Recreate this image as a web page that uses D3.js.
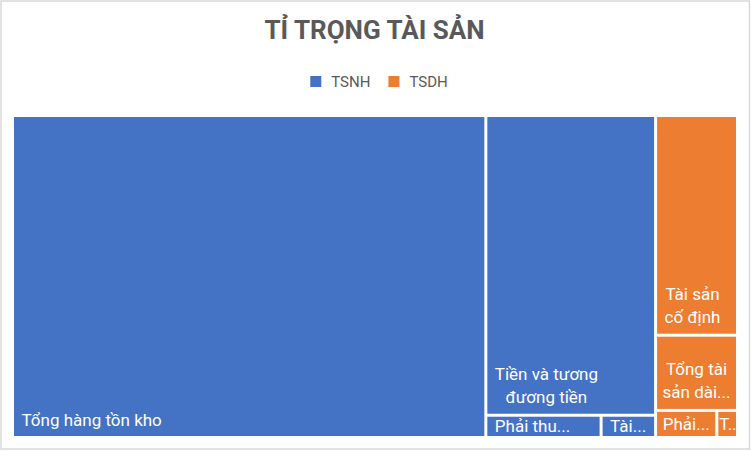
<!DOCTYPE html>
<html>
<head>
<meta charset="utf-8">
<script src="https://cdn.jsdelivr.net/npm/d3@7"></script>
<style>
  html, body { margin: 0; padding: 0; background: #ffffff; }
  svg { display: block; }
</style>
</head>
<body>
<svg id="chart" width="751" height="451"></svg>
<script>
// ---- data ----
const chartTitle = "TỈ TRỌNG TÀI SẢN";
const seriesNames = ["TSNH", "TSDH"];
const seriesColors = ["#4472C4", "#ED7D31"];
const categories = ["Tổng hàng tồn kho", "Tiền và tương đương tiền", "Phải thu...", "Tài...",
                    "Tài sản cố định", "Tổng tài sản dài...", "Phải...", "T..."];
const categoryGroup = ["TSNH", "TSNH", "TSNH", "TSNH", "TSDH", "TSDH", "TSDH", "TSDH"];
const values = [65.3, 21.8, 1.10, 0.52, 7.71, 2.64, 0.71, 0.24];
const labelLines = [["Tổng hàng tồn kho"], ["Tiền và tương", "đương tiền"], ["Phải thu..."], ["Tài..."],
                    ["Tài sản", "cố định"], ["Tổng tài", "sản dài..."], ["Phải..."], ["T..."]];

// ---- layout ----
const W = 751, H = 451;
const plot = { x0: 14, y0: 117, x1: 736, y1: 436 };
const FONT = "Roboto, 'Noto Sans', sans-serif";
const textGray = "#595959";

const svg = d3.select("#chart");

// chart frame
svg.append("rect")
  .attr("x", 1).attr("y", 1).attr("width", 748.5).attr("height", 448)
  .attr("fill", "#ffffff").attr("stroke", "#D9D9D9").attr("stroke-width", 1.5);

// title
svg.append("text")
  .attr("x", 374.5).attr("y", 39)
  .attr("text-anchor", "middle")
  .attr("font-family", FONT).attr("font-weight", "bold").attr("font-size", 26)
  .attr("fill", textGray)
  .text(chartTitle);

// legend
const color = d3.scaleOrdinal().domain(seriesNames).range(seriesColors);
const legend = svg.append("g");
let lx = 0;
seriesNames.forEach((s, i) => {
  const g = legend.append("g").attr("transform", `translate(${lx},0)`);
  g.append("rect").attr("x", 0).attr("y", -11).attr("width", 11).attr("height", 11).attr("fill", color(s));
  const t = g.append("text").attr("x", 21).attr("y", 0)
    .attr("font-family", FONT).attr("font-size", 15).attr("fill", textGray).text(s);
  const tw = t.node().getComputedTextLength();
  lx += 21 + tw + (i < seriesNames.length - 1 ? 18 : 0);
});
legend.attr("transform", `translate(${379 - lx / 2},87)`);

// hierarchy
const rootData = {
  name: "root",
  children: seriesNames.map(s => ({
    name: s,
    children: categories.map((c, i) => ({ name: c, group: categoryGroup[i], value: values[i], lines: labelLines[i] }))
                        .filter(d => d.group === s)
  }))
};
const root = d3.hierarchy(rootData)
  .sum(d => d.children ? 0 : d.value)
  .sort((a, b) => b.value - a.value);

d3.treemap()
  .tile(d3.treemapSquarify)
  .size([plot.x1 - plot.x0, plot.y1 - plot.y0])
  .paddingInner(3)
  .round(false)(root);

const gPlot = svg.append("g").attr("transform", `translate(${plot.x0},${plot.y0})`);
const leaves = root.leaves();

const defs = svg.append("defs");
leaves.forEach((d, i) => {
  defs.append("clipPath").attr("id", "clip" + i)
    .append("rect").attr("x", d.x0).attr("y", d.y0)
    .attr("width", d.x1 - d.x0).attr("height", d.y1 - d.y0);
});

const cell = gPlot.selectAll("g.cell").data(leaves).join("g").attr("class", "cell");
cell.append("rect")
  .attr("x", d => d.x0).attr("y", d => d.y0)
  .attr("width", d => d.x1 - d.x0).attr("height", d => d.y1 - d.y0)
  .attr("fill", d => color(d.data.group));

const labelSize = 17, lineH = 23;
cell.each(function (d, i) {
  const g = d3.select(this).append("g").attr("clip-path", `url(#clip${i})`);
  const w = d.x1 - d.x0, h = d.y1 - d.y0;
  const lines = d.data.lines;
  const texts = lines.map(l => g.append("text")
    .attr("font-family", FONT).attr("font-size", labelSize).attr("fill", "#ffffff")
    .text(l));
  const widths = texts.map(t => t.node().getComputedTextLength());
  const bw = d3.max(widths);
  const pad = Math.min(7.5, Math.max(1, (w - bw) / 2));
  const cx = d.x0 + pad + bw / 2;
  const lastBase = Math.max(d.y1 - 10.5, (d.y0 + d.y1) / 2 + 6);
  texts.forEach((t, k) => {
    t.attr("x", cx).attr("text-anchor", "middle")
     .attr("y", lastBase - (lines.length - 1 - k) * lineH);
  });
});
</script>
</body>
</html>
